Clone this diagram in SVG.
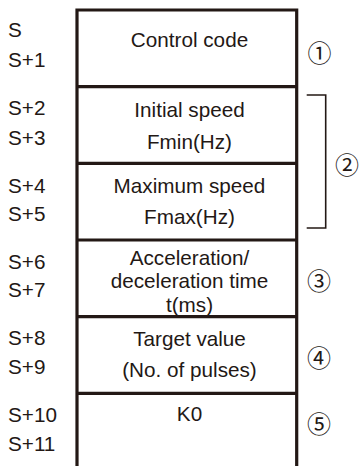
<svg xmlns="http://www.w3.org/2000/svg" width="359" height="466" viewBox="0 0 359 466">
<style>
text{font-family:"Liberation Sans",Arial,sans-serif;font-size:20.7px;fill:#231815}
.c{text-anchor:middle}
.n{font-family:"Noto Sans CJK JP","DejaVu Sans",sans-serif;font-size:24px;text-anchor:middle}
.box{stroke:#231815;stroke-width:3.2;fill:none}
.br{stroke:#231815;stroke-width:1.6;fill:none}
</style>
<rect width="359" height="466" fill="#fff"/>
<g id="labels">
<text x="8" y="36.7">S</text>
<text x="8" y="66.7">S+1</text>
<text x="8" y="115">S+2</text>
<text x="8" y="145">S+3</text>
<text x="8" y="192.7">S+4</text>
<text x="8" y="221">S+5</text>
<text x="8" y="269">S+6</text>
<text x="8" y="297">S+7</text>
<text x="8" y="345">S+8</text>
<text x="8" y="374">S+9</text>
<text x="8" y="422.3">S+10</text>
<text x="8" y="450.7">S+11</text>
</g>
<g id="frame">
<path class="box" d="M77 466V10H296.7V466"/>
</g>
<g id="node-control">
<line class="box" x1="77" y1="86.7" x2="296.7" y2="86.7"/>
<text class="c" x="189.5" y="47.3">Control code</text>
</g>
<g id="node-initial">
<line class="box" x1="77" y1="163.4" x2="296.7" y2="163.4"/>
<text class="c" x="189.5" y="116.7">Initial speed</text>
<text class="c" x="189.5" y="148.5">Fmin(Hz)</text>
</g>
<g id="node-max">
<line class="box" x1="77" y1="240" x2="296.7" y2="240"/>
<text class="c" x="189.5" y="192.7">Maximum speed</text>
<text class="c" x="189.5" y="223.5">Fmax(Hz)</text>
</g>
<g id="node-accel">
<line class="box" x1="77" y1="316.7" x2="296.7" y2="316.7"/>
<text class="c" x="189.5" y="264.5">Acceleration/</text>
<text class="c" x="189.5" y="288">deceleration time</text>
<text class="c" x="189.5" y="311.5">t(ms)</text>
</g>
<g id="node-target">
<line class="box" x1="77" y1="393.3" x2="296.7" y2="393.3"/>
<text class="c" x="189.5" y="346">Target value</text>
<text class="c" x="189.5" y="376.7">(No. of pulses)</text>
</g>
<g id="node-k0">
<text class="c" x="189.5" y="421">K0</text>
</g>
<g id="connectors">
<path class="br" d="M306.7 95H325.7V228H306.7"/>
</g>
<g id="markers">
<text class="n" x="319.5" y="61.8">①</text>
<text class="n" x="347" y="173.8">②</text>
<text class="n" x="319" y="290.3">③</text>
<text class="n" x="319" y="367.3">④</text>
<text class="n" x="319" y="433.3">⑤</text>
</g>
</svg>
